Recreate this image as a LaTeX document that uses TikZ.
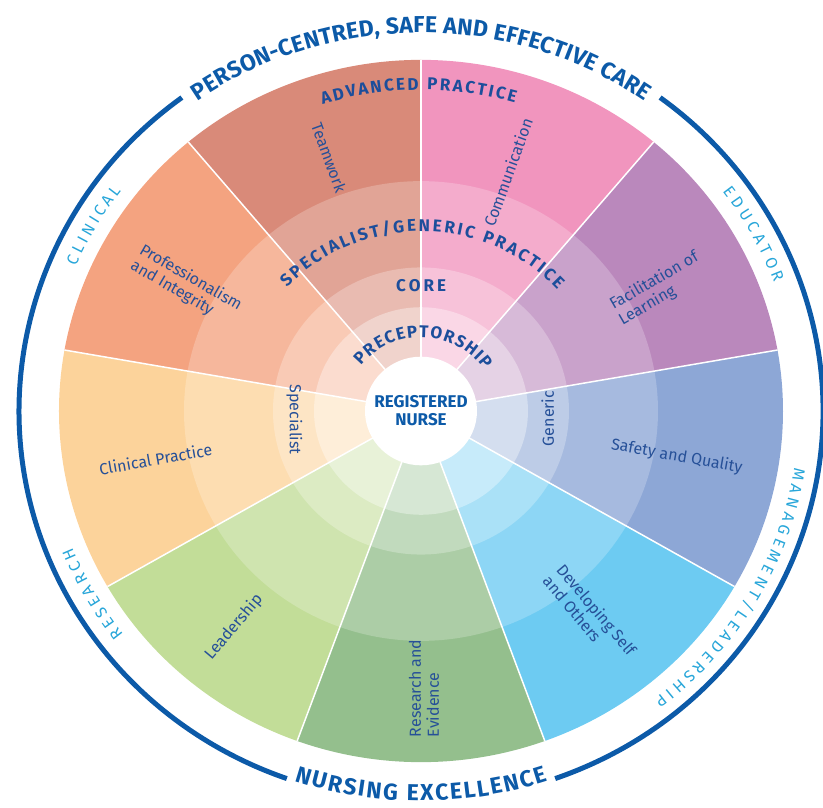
\documentclass[tikz,border=0pt]{standalone}
\usepackage{fontspec}
\setmainfont{Fira Sans}
\usetikzlibrary{decorations.text}

% wheel colours
\definecolor{teamcol}{RGB}{217,138,121}
\definecolor{commcol}{RGB}{241,149,190}
\definecolor{facilcol}{RGB}{186,136,188}
\definecolor{safecol}{RGB}{141,167,214}
\definecolor{devcol}{RGB}{109,203,242}
\definecolor{rescol}{RGB}{148,191,141}
\definecolor{leadcol}{RGB}{194,221,152}
\definecolor{clincol}{RGB}{252,211,155}
\definecolor{profcol}{RGB}{244,163,128}
% text colours
\definecolor{ringblue}{RGB}{12,90,168}
\definecolor{bandblue}{RGB}{28,78,155}
\definecolor{labelblue}{RGB}{38,80,152}
\definecolor{rolecyan}{RGB}{40,166,217}

\newcommand\titlefont{\fontsize{23}{23}\selectfont\bfseries}
\newcommand\bandfont{\fontsize{17}{17}\selectfont\bfseries}
\newcommand\rolefont{\fontsize{16}{16}\selectfont}

\begin{document}
\begin{tikzpicture}[x=1pt, y=0.97pt,
    seglabel/.style={text=labelblue, font=\fontsize{16}{18}\selectfont, align=left, inner sep=0pt},
    ringtext/.style={decorate, decoration={text along path, text align=fit to path, text={#1}}},
    outerring/.style={draw=ringblue, line width=5pt}]
  \useasboundingbox (-421pt,-396pt) rectangle (402pt,411pt);

  % segments, outer band first
  \foreach \ang/\col in {110/teamcol, 70/commcol, 30/facilcol, -10/safecol, -50/devcol,
      -90/rescol, -130/leadcol, -170/clincol, 150/profcol}{
    \fill[\col] (0,0) -- ({\ang-20}:362) arc[start angle=\ang-20, end angle=\ang+20, radius=362] -- cycle;
    \fill[\col!78!white] (0,0) -- ({\ang-20}:237) arc[start angle=\ang-20, end angle=\ang+20, radius=237] -- cycle;
    \fill[\col!58!white] (0,0) -- ({\ang-20}:148) arc[start angle=\ang-20, end angle=\ang+20, radius=148] -- cycle;
    \fill[\col!38!white] (0,0) -- ({\ang-20}:107) arc[start angle=\ang-20, end angle=\ang+20, radius=107] -- cycle;
  }
  \foreach \ang in {10,50,...,330}
    \draw[white, line width=1.5pt] (0,0) -- (\ang:362);
  \fill[white] (0,0) circle[radius=56];
  \node[text=ringblue, font=\fontsize{17}{18}\selectfont\bfseries, align=center] (nurse) at (0,0) {REGISTERED\\NURSE};

  % outer ring
  \draw[outerring] (126.5:402) arc[start angle=126.5, end angle=250.5, radius=402];
  \draw[outerring] (-70.5:402) arc[start angle=-70.5, end angle=53.5, radius=402];
  \path[ringtext={|\titlefont\color{ringblue}|PERSON-CENTRED, SAFE AND EFFECTIVE CARE}]
    (125:390) arc[start angle=125, end angle=55, radius=390];
  \path[ringtext={|\titlefont\color{ringblue}|NURSING EXCELLENCE}]
    (251.6:402) arc[start angle=251.6, end angle=288.4, radius=402];

  % roles
  \path[ringtext={|\rolefont\color{rolecyan}|CLINICAL}]
    (156.6:376) arc[start angle=156.6, end angle=142.9, radius=376];
  \path[ringtext={|\rolefont\color{rolecyan}|EDUCATOR}]
    (36.9:377) arc[start angle=36.9, end angle=20.5, radius=377];
  \path[ringtext={|\rolefont\color{rolecyan}|RESEARCH}]
    (217.7:376) arc[start angle=217.7, end angle=201.9, radius=376];
  \path[ringtext={|\rolefont\color{rolecyan}|MANAGEMENT/LEADERSHIP}]
    (-8.9:378) arc[start angle=-8.9, end angle=-51.9, radius=378];

  % bands
  \path[ringtext={|\bandfont\color{bandblue}|ADVANCED PRACTICE}]
    (107.3:331) arc[start angle=107.3, end angle=73.5, radius=331];
  \path[ringtext={|\bandfont\color{bandblue}|SPECIALIST/GENERIC PRACTICE}]
    (136.5:185) arc[start angle=136.5, end angle=42.5, radius=185];
  \path[ringtext={|\bandfont\color{bandblue}|PRECEPTORSHIP}]
    (142:76) arc[start angle=142, end angle=34, radius=76];
  \node[text=bandblue, font=\bandfont] (core) at (90:129) {C\kern3pt O\kern3pt R\kern3pt E};
  \node[seglabel, rotate=-90] (specialist) at (184:127) {Specialist};
  \node[seglabel, rotate=90] (generic) at (-3.5:127) {Generic};

  % segment labels
  \node[seglabel, rotate=-70] (teamwork) at (109.4:277) {Teamwork};
  \node[seglabel, rotate=70] (communication) at (70.5:261) {Communication};
  \node[seglabel, rotate=30] (facilitation) at (27.9:269) {Facilitation of\\Learning};
  \node[seglabel, rotate=-10] (safety) at (-10.4:260) {Safety and Quality};
  \node[seglabel, rotate=-50] (developing) at (-51.3:270) {Developing Self\\and Others};
  \node[seglabel, rotate=90] (research) at (-89.4:286) {Research and\\Evidence};
  \node[seglabel, rotate=50] (leadership) at (230:291) {Leadership};
  \node[seglabel, rotate=10] (clinical) at (190.6:270) {Clinical Practice};
  \node[seglabel, rotate=-30] (professionalism) at (151.2:268) {Professionalism\\and Integrity};
\end{tikzpicture}
\end{document}
